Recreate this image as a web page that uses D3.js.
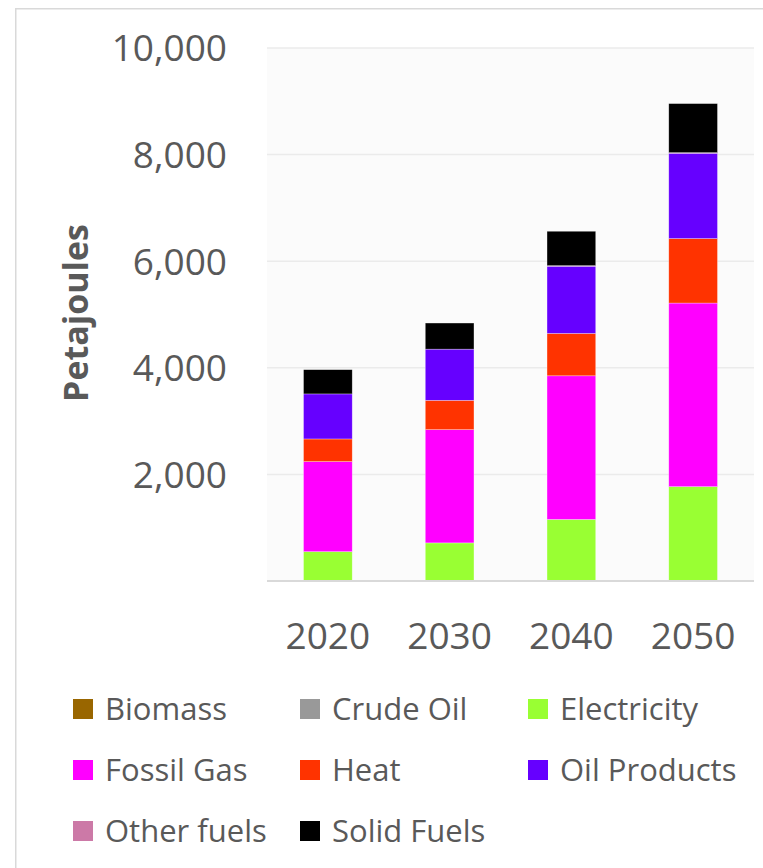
<!DOCTYPE html>
<html>
<head>
<meta charset="utf-8">
<script src="https://cdn.jsdelivr.net/npm/d3@7"></script>
<style>
  html, body { margin: 0; padding: 0; background: #ffffff; }
  svg { display: block; }
</style>
</head>
<body>
<svg id="chart" width="763" height="868"></svg>
<script>
// Final energy demand by fuel, petajoules
const years = ["2020", "2030", "2040", "2050"];
const fuels = ["Biomass", "Crude Oil", "Electricity", "Fossil Gas", "Heat", "Oil Products", "Other fuels", "Solid Fuels"];
const fuelColors = ["#996600", "#999999", "#99ff33", "#ff00ff", "#ff3300", "#6600ff", "#cc79a7", "#000000"];
const biomass     = [0, 0, 0, 0];
const crudeOil    = [0, 0, 0, 0];
const electricity = [550, 715, 1155, 1770];
const fossilGas   = [1690, 2125, 2695, 3445];
const heat        = [425, 550, 795, 1210];
const oilProducts = [845, 960, 1260, 1600];
const otherFuels  = [0, 0, 12, 12];
const solidFuels  = [455, 490, 645, 920];
const yTicks = [0, 2000, 4000, 6000, 8000, 10000];

const seriesValues = [biomass, crudeOil, electricity, fossilGas, heat, oilProducts, otherFuels, solidFuels];
const rows = years.map((yr, i) => {
  const r = { year: yr };
  fuels.forEach((f, k) => { r[f] = seriesValues[k][i]; });
  return r;
});

const svg = d3.select("#chart");
const textColor = "#595959";
const font = "'Open Sans', 'Noto Sans', sans-serif";

// Chart frame
svg.append("path")
  .attr("d", "M15.75,868 L15.75,8.75 L763,8.75")
  .attr("fill", "none")
  .attr("stroke", "#d9d9d9")
  .attr("stroke-width", 1.5);

const plot = { left: 267, right: 754, top: 48, bottom: 581 };

svg.append("rect")
  .attr("x", plot.left).attr("y", plot.top)
  .attr("width", plot.right - plot.left).attr("height", plot.bottom - plot.top)
  .attr("fill", "#fbfbfb");

const x = d3.scaleBand().domain(years).range([plot.left, plot.right])
  .paddingInner(0.6).paddingOuter(0.3);
const y = d3.scaleLinear().domain([0, 10000]).range([plot.bottom, plot.top]);

// Gridlines
svg.append("g")
  .selectAll("line")
  .data(yTicks.filter(t => t > 0))
  .join("line")
  .attr("x1", plot.left).attr("x2", plot.right)
  .attr("y1", d => y(d)).attr("y2", d => y(d))
  .attr("stroke", "#ebebeb")
  .attr("stroke-width", 1.5);

// Stacked bars
const stack = d3.stack().keys(fuels);
const layers = stack(rows);
svg.append("g")
  .selectAll("g")
  .data(layers)
  .join("g")
  .attr("fill", (d, i) => fuelColors[i])
  .selectAll("rect")
  .data(d => d.filter(s => s[1] - s[0] > 0))
  .join("rect")
  .attr("x", d => x(d.data.year))
  .attr("width", x.bandwidth())
  .attr("y", d => y(d[1]))
  .attr("height", d => y(d[0]) - y(d[1]))
  .attr("stroke", "#ffffff")
  .attr("stroke-opacity", 0.5)
  .attr("stroke-width", 0.6);

// Category axis line
svg.append("line")
  .attr("x1", plot.left).attr("x2", plot.right)
  .attr("y1", y(0)).attr("y2", y(0))
  .attr("stroke", "#d9d9d9")
  .attr("stroke-width", 2);

// Value axis labels
const yAxis = d3.axisLeft(y)
  .tickValues(yTicks.filter(t => t > 0))
  .tickFormat(d3.format(","))
  .tickSize(0).tickPadding(0);
const yg = svg.append("g").attr("transform", "translate(227,0)").call(yAxis);
yg.select(".domain").remove();
yg.selectAll("text")
  .attr("fill", textColor)
  .style("font-family", font)
  .style("font-size", "37px")
  .attr("dy", "0.35em");

// Category axis labels
const xAxis = d3.axisBottom(x).tickSize(0).tickPadding(0);
const xg = svg.append("g").attr("transform", "translate(0,636)").call(xAxis);
xg.select(".domain").remove();
xg.selectAll("text")
  .attr("fill", textColor)
  .style("font-family", font)
  .style("font-size", "37px")
  .attr("dy", "0.35em");

// Axis title
svg.append("text")
  .attr("transform", "translate(76,313) rotate(-90)")
  .attr("text-anchor", "middle")
  .attr("dy", "0.35em")
  .attr("fill", textColor)
  .style("font-family", font)
  .style("font-weight", "bold")
  .style("font-size", "34px")
  .text("Petajoules");

// Legend
const legendCols = [73, 300, 528];
const legendRows = [709, 770, 831];
const legend = svg.append("g")
  .selectAll("g")
  .data(fuels)
  .join("g")
  .attr("transform", (d, i) => `translate(${legendCols[i % 3]},${legendRows[Math.floor(i / 3)]})`);
legend.append("rect")
  .attr("x", 0).attr("y", -10)
  .attr("width", 20).attr("height", 20)
  .attr("fill", (d, i) => fuelColors[i]);
legend.append("text")
  .attr("x", 32)
  .attr("dy", "0.35em")
  .attr("fill", textColor)
  .style("font-family", font)
  .style("font-size", "31px")
  .text(d => d);
</script>
</body>
</html>
